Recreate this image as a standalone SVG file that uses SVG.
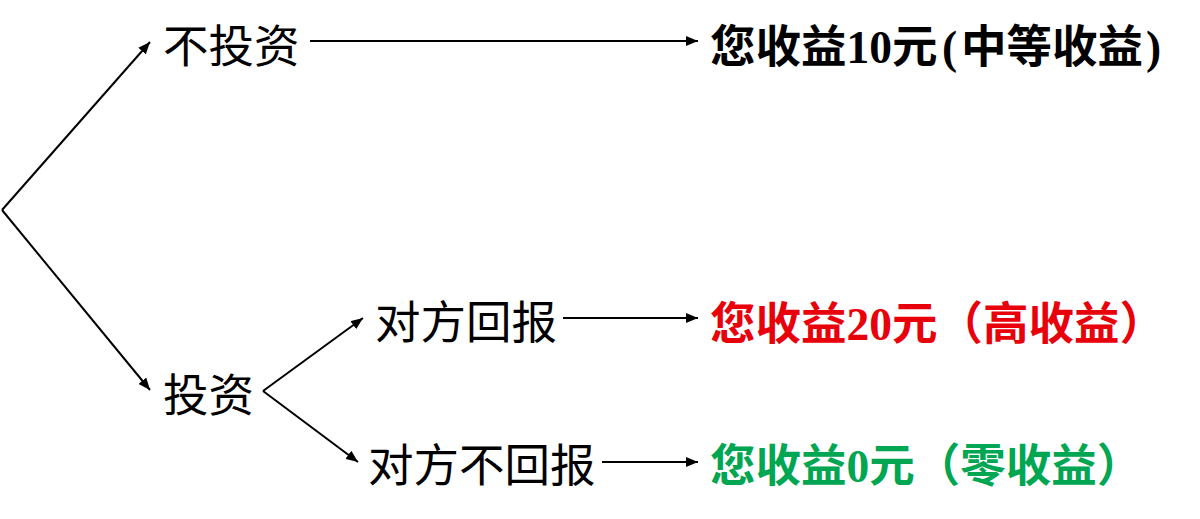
<svg xmlns="http://www.w3.org/2000/svg" width="1200" height="519" viewBox="0 0 1200 519">
<defs>
<marker id="ah" viewBox="0 0 12 10" refX="12" refY="5" markerWidth="12" markerHeight="10" markerUnits="userSpaceOnUse" orient="auto">
<path d="M0,0 L12,5 L0,10 Z" fill="#000"/>
</marker>
</defs>
<style>
text{font-family:"Liberation Serif","Noto Sans CJK SC",serif;font-size:45.5px;fill:#000}
.r{font-weight:bold}
.red{fill:#e8000b}
.green{fill:#00a651}
.c line{stroke:#000;stroke-width:2;fill:none}
</style>
<rect width="1200" height="519" fill="#fff"/>
<g class="c" id="connectors">
<line x1="2" y1="210" x2="150" y2="42" marker-end="url(#ah)"/>
<line x1="2" y1="210" x2="150" y2="390" marker-end="url(#ah)"/>
<line x1="310" y1="41" x2="698" y2="41" marker-end="url(#ah)"/>
<line x1="263" y1="391" x2="363" y2="318" marker-end="url(#ah)"/>
<line x1="263" y1="391" x2="358" y2="462" marker-end="url(#ah)"/>
<line x1="563" y1="318" x2="698" y2="318" marker-end="url(#ah)"/>
<line x1="602" y1="462" x2="698" y2="462" marker-end="url(#ah)"/>
</g>
<g id="n-notinvest"><text x="163" y="63">不投资</text></g>
<g id="n-invest"><text x="163" y="412">投资</text></g>
<g id="n-repay"><text x="375" y="339">对方回报</text></g>
<g id="n-norepay"><text x="368" y="482">对方不回报</text></g>
<g id="n-r10"><text class="r" y="63"><tspan x="710">您收益10元</tspan><tspan x="942">(</tspan><tspan x="961">中等收益</tspan><tspan x="1146">)</tspan></text></g>
<g id="n-r20"><text class="r red" x="710" y="340">您收益20元（高收益）</text></g>
<g id="n-r0"><text class="r green" x="710" y="482">您收益0元（零收益）</text></g>
</svg>
